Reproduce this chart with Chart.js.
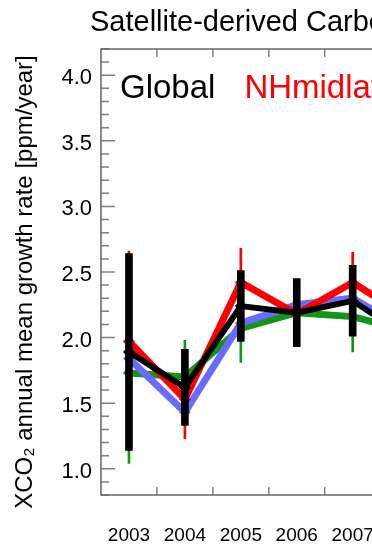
<!DOCTYPE html>
<html>
<head>
<meta charset="utf-8">
<script src="https://cdn.jsdelivr.net/npm/chart.js@4"></script>
<style>
html, body { margin: 0; padding: 0; overflow: hidden; background: #fff; }
#wrap { width: 372px; height: 548px; overflow: hidden; }
</style>
</head>
<body>
<div id="wrap"><canvas id="growthChart" width="460" height="548"></canvas></div>
<script>
// years on the x axis
const years = ['2003', '2004', '2005', '2006', '2007', '2008'];
const seriesNames = ['Global', 'NHmidlat', 'Tropics', 'SHmidlat'];

// annual mean growth rate [ppm/year] and error (half length of the bar)
const globalRate = [1.89, 1.62, 2.24, 2.19, 2.28, 2.00];
const globalErr  = [0.75, 0.29, 0.27, 0.26, 0.27, 0.30];
const nhRate     = [1.97, 1.53, 2.42, 2.18, 2.42, 2.15];
const nhErr      = [0.69, 0.30, 0.26, 0.25, 0.23, 0.25];
const tropicsRate = [1.84, 1.43, 2.11, 2.25, 2.30, 2.05];
const shRate     = [1.73, 1.70, 2.07, 2.19, 2.16, 2.05];
const shErr      = [0.69, 0.28, 0.26, 0.25, 0.27, 0.25];

// labelled y ticks
const yLabels = [1.0, 1.5, 2.0, 2.5, 3.0, 3.5, 4.0];

const colors = ['#000000', '#ff0000', '#6a6aff', '#12961a'];
const fontFamily = '"Liberation Sans", Arial, Helvetica, sans-serif';

function isMajor(v) {
    return yLabels.some(l => Math.abs(l - v) < 1e-6);
}

function errRange(rate, err) {
    return rate.map((v, i) => [v - err[i], v + err[i]]);
}

// frame and inward ticks, IDL style
const idlAxes = {
    id: 'idlAxes',
    beforeDatasetsDraw(chart) {
        const { ctx, chartArea: a, scales: { x, y } } = chart;
        ctx.save();
        ctx.strokeStyle = '#808080';
        ctx.lineWidth = 1.5;
        ctx.beginPath();
        y.ticks.forEach(t => {
            const py = y.getPixelForValue(t.value);
            const len = isMajor(t.value) ? 14 : 8;
            ctx.moveTo(a.left, py);
            ctx.lineTo(a.left + len, py);
            ctx.moveTo(a.right, py);
            ctx.lineTo(a.right - len, py);
        });
        for (let i = 0; i < years.length - 1; i++) {
            const px = (x.getPixelForValue(i) + x.getPixelForValue(i + 1)) / 2;
            ctx.moveTo(px, a.bottom);
            ctx.lineTo(px, a.bottom - 8);
            ctx.moveTo(px, a.top);
            ctx.lineTo(px, a.top + 8);
        }
        ctx.stroke();
        ctx.strokeStyle = '#666';
        ctx.strokeRect(a.left, a.top, a.right - a.left, a.bottom - a.top);
        ctx.restore();
    }
};

// title and coloured legend names inside the plot
const titleAndNames = {
    id: 'titleAndNames',
    afterDraw(chart) {
        const { ctx, chartArea: a } = chart;
        ctx.save();
        ctx.textBaseline = 'alphabetic';
        ctx.textAlign = 'left';
        ctx.fillStyle = '#000';
        ctx.font = '29px ' + fontFamily;
        ctx.fillText('Satellite-derived Carbon Dioxide Growth Rate', a.left - 11, 31);

        ctx.font = '33px ' + fontFamily;
        let x = a.left + 19;
        seriesNames.forEach((name, i) => {
            ctx.fillStyle = colors[i];
            ctx.fillText(name, x, 98);
            x += ctx.measureText(name).width + 29;
        });
        ctx.restore();
    }
};

const errBar = (label, data, color, width, order) => ({
    type: 'bar',
    label: label,
    data: data,
    backgroundColor: color,
    borderWidth: 0,
    barThickness: width,
    grouped: false,
    order: order
});

const rateLine = (label, data, color, width, order) => ({
    type: 'line',
    label: label,
    data: data,
    borderColor: color,
    backgroundColor: color,
    borderWidth: width,
    pointStyle: 'rectRot',
    pointRadius: 6,
    pointBorderWidth: 0,
    tension: 0,
    fill: false,
    order: order
});

const growthChart = new Chart(document.getElementById('growthChart'), {
    data: {
        labels: years,
        datasets: [
            errBar('Global error', errRange(globalRate, globalErr), colors[0], 7, 0),
            rateLine(seriesNames[0], globalRate, colors[0], 6, 1),
            rateLine(seriesNames[1], nhRate, colors[1], 7, 2),
            errBar('NHmidlat error', errRange(nhRate, nhErr), colors[1], 2, 3),
            rateLine(seriesNames[3], shRate, colors[3], 7, 5),
            errBar('SHmidlat error', errRange(shRate, shErr), colors[3], 2, 6),
            rateLine(seriesNames[2], tropicsRate, colors[2], 7, 4)
        ]
    },
    options: {
        responsive: false,
        animation: false,
        layout: { padding: { top: 49, left: 7, right: 15, bottom: 0 } },
        plugins: {
            legend: { display: false },
            tooltip: { enabled: false },
            title: { display: false }
        },
        scales: {
            x: {
                type: 'category',
                offset: true,
                grid: { display: false, drawTicks: false },
                border: { display: false },
                ticks: {
                    color: '#000',
                    font: { family: fontFamily, size: 19 },
                    padding: 29,
                    maxRotation: 0,
                    autoSkip: false
                },
                afterFit: s => { s.height = 53; }
            },
            y: {
                min: 0.8,
                max: 4.2,
                grid: { display: false, drawTicks: false },
                border: { display: false },
                ticks: {
                    stepSize: 0.1,
                    autoSkip: false,
                    color: '#000',
                    font: { family: fontFamily, size: 22 },
                    padding: 9,
                    labelOffset: 3,
                    callback: v => isMajor(v) ? v.toFixed(1) : ''
                },
                title: {
                    display: true,
                    text: 'XCO\u2082 annual mean growth rate [ppm/year]   ',
                    color: '#000',
                    font: { family: fontFamily, size: 24 },
                    padding: { top: 4, bottom: 0 }
                },
                afterFit: s => { s.width = 94; }
            }
        }
    },
    plugins: [idlAxes, titleAndNames]
});
</script>
</body>
</html>
